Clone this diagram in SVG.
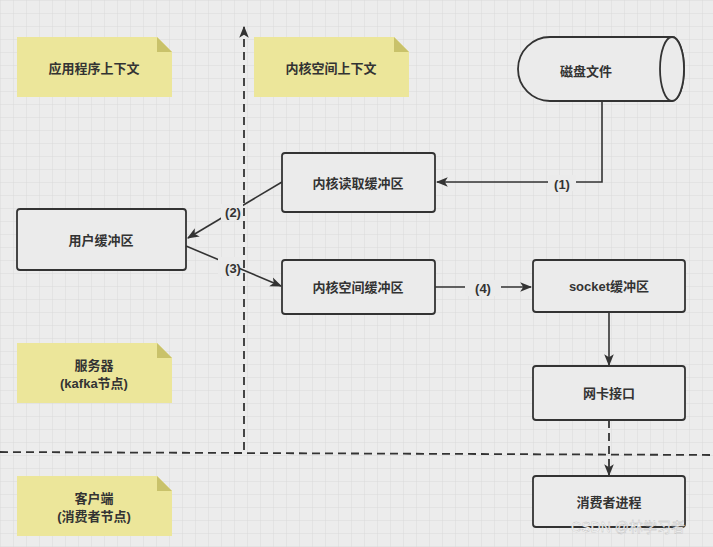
<svg xmlns="http://www.w3.org/2000/svg" width="713" height="547" viewBox="0 0 713 547">
<defs>
<pattern id="grid" width="13" height="13" patternUnits="userSpaceOnUse">
<path d="M13 0H0V13" fill="none" stroke="#d9d9d9" stroke-width="1"/>
</pattern>
<marker id="ah" viewBox="0 0 10 10" refX="9" refY="5" markerWidth="10" markerHeight="10" markerUnits="userSpaceOnUse" orient="auto">
<path d="M0 1L10 5L0 9L2.5 5Z" fill="#333"/>
</marker>
<marker id="ahb" viewBox="0 0 10 10" refX="9" refY="5" markerWidth="12" markerHeight="12" markerUnits="userSpaceOnUse" orient="auto">
<path d="M0 1L10 5L0 9L2.5 5Z" fill="#333"/>
</marker>
</defs>
<style>
text{font-family:"Liberation Sans","Noto Sans CJK SC",sans-serif;font-weight:bold;font-size:13px;fill:#333;text-anchor:middle;dominant-baseline:central}
.box{fill:#ebebeb;stroke:#333;stroke-width:1.8}
.note{fill:#ece69a}
.fold{fill:#c9c26a}
.ln{fill:none;stroke:#333;stroke-width:1.6}
.dash{fill:none;stroke:#333;stroke-width:1.8;stroke-dasharray:8 5}
.lbl{fill:#ebebeb}
</style>
<rect width="713" height="547" fill="#ececec"/>
<rect width="713" height="547" fill="url(#grid)"/>

<g id="note-app"><path class="note" d="M17 37H157L172 52V97H17Z"/><path class="fold" d="M157 37L172 52H157Z"/><text x="94" y="68">应用程序上下文</text></g>
<g id="note-kernel"><path class="note" d="M254 37H394L409 52V97H254Z"/><path class="fold" d="M394 37L409 52H394Z"/><text x="331" y="68">内核空间上下文</text></g>
<g id="note-server"><path class="note" d="M17 343H157L172 358V403H17Z"/><path class="fold" d="M157 343L172 358H157Z"/><text x="94" y="365">服务器</text><text x="94" y="383">(kafka节点)</text></g>
<g id="note-client"><path class="note" d="M17 476H157L172 491V536H17Z"/><path class="fold" d="M157 476L172 491H157Z"/><text x="94" y="498">客户端</text><text x="94" y="516">(消费者节点)</text></g>

<g id="connectors">
<line class="dash" x1="244" y1="450" x2="244" y2="27" marker-end="url(#ahb)"/>
<line class="dash" x1="0" y1="452" x2="713" y2="455"/>
<polyline class="ln" points="602,101 602,182 437,182" marker-end="url(#ahb)"/>
<rect class="lbl" x="548" y="175" width="28" height="16"/><text x="562" y="184">(1)</text>
<line class="ln" x1="282" y1="182" x2="188" y2="238" marker-end="url(#ahb)"/>
<rect class="lbl" x="221" y="204" width="22" height="16"/><text x="233" y="212">(2)</text>
<line class="ln" x1="186" y1="246" x2="281" y2="286" marker-end="url(#ahb)"/>
<rect class="lbl" x="218" y="257" width="22" height="20"/><text x="233" y="268">(3)</text>
<line class="ln" x1="435" y1="287" x2="531" y2="287" marker-end="url(#ahb)"/>
<rect class="lbl" x="465" y="280" width="36" height="16"/><text x="483" y="288">(4)</text>
<line class="ln" x1="609" y1="312" x2="609" y2="365" marker-end="url(#ahb)"/>
<line class="dash" x1="609" y1="420" x2="609" y2="475" marker-end="url(#ahb)"/>
</g>

<g id="disk"><path class="box" d="M550 37H672A12 32 0 0 1 672 101H550A32 32 0 0 1 550 37Z"/><ellipse class="box" cx="672" cy="69" rx="12" ry="32"/><text x="586" y="71">磁盘文件</text></g>
<g id="kread"><rect class="box" x="282" y="153" width="153" height="59" rx="3"/><text x="358" y="183">内核读取缓冲区</text></g>
<g id="user"><rect class="box" x="17" y="209" width="169" height="61" rx="3"/><text x="101" y="240">用户缓冲区</text></g>
<g id="kspace"><rect class="box" x="282" y="260" width="153" height="54" rx="3"/><text x="358" y="287">内核空间缓冲区</text></g>
<g id="socket"><rect class="box" x="533" y="260" width="152" height="52" rx="3"/><text x="609" y="286">socket缓冲区</text></g>
<g id="nic"><rect class="box" x="533" y="366" width="152" height="54" rx="3"/><text x="609" y="393">网卡接口</text></g>
<g id="consumer"><rect class="box" x="533" y="476" width="152" height="51" rx="3"/><text x="609" y="502">消费者进程</text></g>
<text x="628" y="527" style="font-weight:normal;font-size:14px;fill:#ffffff;stroke:#bbb;stroke-width:0.4">CSDN @林学习者</text>
</svg>
